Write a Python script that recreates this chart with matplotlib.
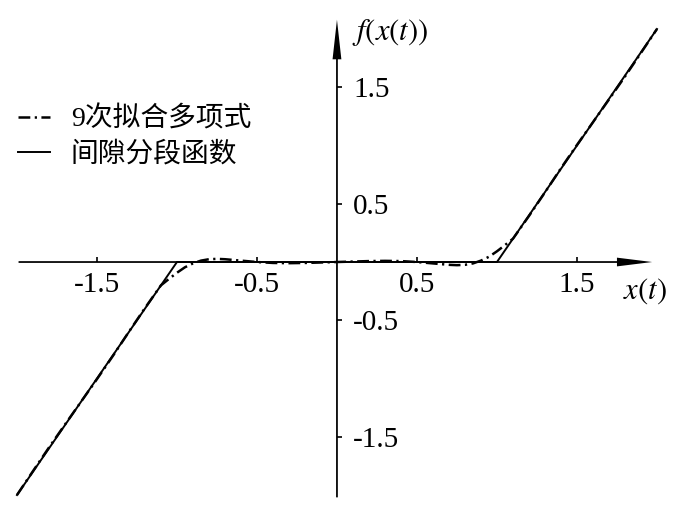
import matplotlib.pyplot as plt

plt.rcParams['font.family'] = ['Liberation Serif', 'Noto Sans CJK SC']
plt.rcParams['mathtext.fontset'] = 'stix'
plt.rcParams['lines.scale_dashes'] = False

# 间隙分段函数 (折点)
gap_x = [-2.0, -1.0, 1.0, 2.0]
gap_y = [-2.0, 0.0, 0.0, 2.0]

# 9次拟合多项式, 点
poly_x = [-2.0, -1.9, -1.8, -1.7, -1.6, -1.5, -1.4, -1.3, -1.2, -1.1, -1.05,
          -1.0, -0.95, -0.9, -0.85, -0.8, -0.75, -0.7, -0.6, -0.5, -0.4,
          -0.3, -0.2, -0.1, 0.0, 0.1, 0.2, 0.3, 0.4, 0.5, 0.6, 0.7, 0.75,
          0.8, 0.85, 0.9, 0.95, 1.0, 1.05, 1.1, 1.2, 1.3, 1.4, 1.5, 1.6,
          1.7, 1.8, 1.9, 2.0]
poly_y = [-2.0, -1.795, -1.592, -1.395, -1.2, -1.005, -0.805, -0.598,
          -0.395, -0.2, -0.145, -0.092, -0.045, -0.012, 0.012, 0.024,
          0.027, 0.024, 0.012, 0.0, -0.008, -0.01, -0.008, -0.004, 0.0,
          0.004, 0.008, 0.01, 0.008, 0.0, -0.012, -0.024, -0.027, -0.024,
          -0.012, 0.012, 0.045, 0.092, 0.145, 0.2, 0.395, 0.598, 0.805,
          1.005, 1.2, 1.395, 1.592, 1.795, 2.0]

tick_vals = [-1.5, -0.5, 0.5, 1.5]
tick_labels = ['-1.5', '-0.5', '0.5', '1.5']

fig = plt.figure(figsize=(7, 5.16), dpi=100)
ax = fig.add_axes([0, 0, 1, 1])
ax.set_xlim(-2.106, 2.269)
ax.set_ylim(-2.180, 2.249)

ax.plot(poly_x, poly_y, color='black', lw=1.8, dashes=(8.5, 3.2, 1.6, 3.2),
        label='9次拟合多项式', clip_on=False)
ax.plot(gap_x, gap_y, color='black', lw=1.4, label='间隙分段函数', clip_on=False)

# 坐标轴在原点, 带箭头
for s in ax.spines.values():
    s.set_visible(False)
ax.spines['bottom'].set_position(('data', 0))
ax.spines['right'].set_position(('data', 0))
ax.xaxis.set_ticks_position('bottom')
ax.yaxis.set_ticks_position('right')
ax.set_xticks(tick_vals, tick_labels)
ax.set_yticks(tick_vals, tick_labels)
ax.tick_params(axis='x', direction='in', length=3.6, width=1.2, pad=7, labelsize=21)
ax.tick_params(axis='y', direction='out', length=3.6, width=1.2, pad=8, labelsize=21)

ax.arrow(-1.99, 0, 1.97 + 1.99, 0, width=0.015, head_width=0.075, head_length=0.22,
         length_includes_head=True, fc='black', ec='none', clip_on=False)
ax.arrow(0, -2.02, 0, 2.08 + 2.02, width=0.011, head_width=0.055, head_length=0.34,
         length_includes_head=True, fc='black', ec='none', clip_on=False)

ax.text(0.094, 1.97, r'$f(x(t))$', fontsize=22, va='center', ha='left')
ax.text(1.925, -0.25, r'$x(t)$', fontsize=22, va='center', ha='center')

ax.legend(loc='upper left', bbox_to_anchor=(18 / 700, 1 - 106 / 516), frameon=False,
          prop={'family': ['Liberation Serif', 'Noto Sans CJK SC'], 'size': 20},
          handlelength=1.15, handletextpad=0.75, labelspacing=0.35,
          borderpad=0, borderaxespad=0)

fig.savefig('out.png', dpi=100)
